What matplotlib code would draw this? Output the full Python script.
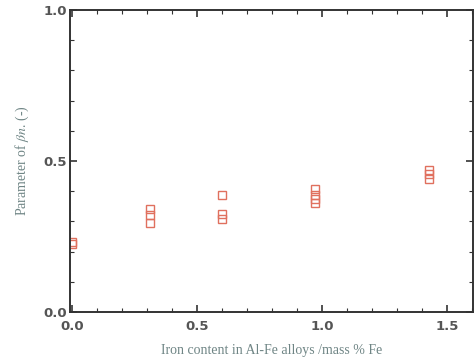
import matplotlib
matplotlib.use("Agg")
import matplotlib.pyplot as plt
from matplotlib.ticker import MultipleLocator

plt.rcParams["mathtext.fontset"] = "stix"

# iron content (mass % Fe) and measured beta*n values
fe_content = [0.0, 0.0,
              0.31, 0.31, 0.31,
              0.60, 0.60, 0.60,
              0.97, 0.97, 0.97, 0.97,
              1.43, 1.43, 1.43]
beta_n = [0.232, 0.226,
          0.342, 0.321, 0.296,
          0.387, 0.324, 0.309,
          0.408, 0.389, 0.373, 0.362,
          0.471, 0.456, 0.439]

x_ticks = [0.0, 0.5, 1.0, 1.5]
x_ticklabels = ["0.0", "0.5", "1.0", "1.5"]
y_ticks = [0.0, 0.5, 1.0]
y_ticklabels = ["0.0", "0.5", "1.0"]

label_col = "#6f8585"
tick_col = "#555555"

fig = plt.figure(figsize=(4.75, 3.61), dpi=100)
ax = fig.add_axes([0.147, 0.136, 0.849, 0.836])

ax.plot(fe_content, beta_n, linestyle="none", marker="s", markersize=6,
        markerfacecolor="none", markeredgecolor="#e0705e", markeredgewidth=1.0)

ax.set_xlim(-0.01, 1.605)
ax.set_ylim(0.0, 1.0)
ax.set_xticks(x_ticks)
ax.set_xticklabels(x_ticklabels)
ax.set_yticks(y_ticks)
ax.set_yticklabels(y_ticklabels)
ax.xaxis.set_minor_locator(MultipleLocator(0.1))
ax.yaxis.set_minor_locator(MultipleLocator(0.1))
ax.tick_params(which="both", direction="in", top=True, right=True,
               colors="#333333", labelcolor=tick_col, labelsize=9.5)
ax.tick_params(which="major", length=5, width=1.2)
ax.tick_params(axis="x", which="major", pad=6)
ax.tick_params(axis="y", which="major", pad=2)
ax.tick_params(which="minor", length=3, width=0.8)
for lab in ax.get_xticklabels() + ax.get_yticklabels():
    lab.set_fontweight("bold")
for s in ax.spines.values():
    s.set_linewidth(1.4)
    s.set_color("#333333")

ax.set_xlabel("Iron content in Al-Fe alloys /mass % Fe", family="Liberation Serif",
              fontsize=10, color=label_col, labelpad=8)
ax.set_ylabel(r"Parameter of $\beta n$. (-)", family="Liberation Serif",
              fontsize=10, color=label_col, labelpad=9)

fig.savefig("out.png", dpi=100)
